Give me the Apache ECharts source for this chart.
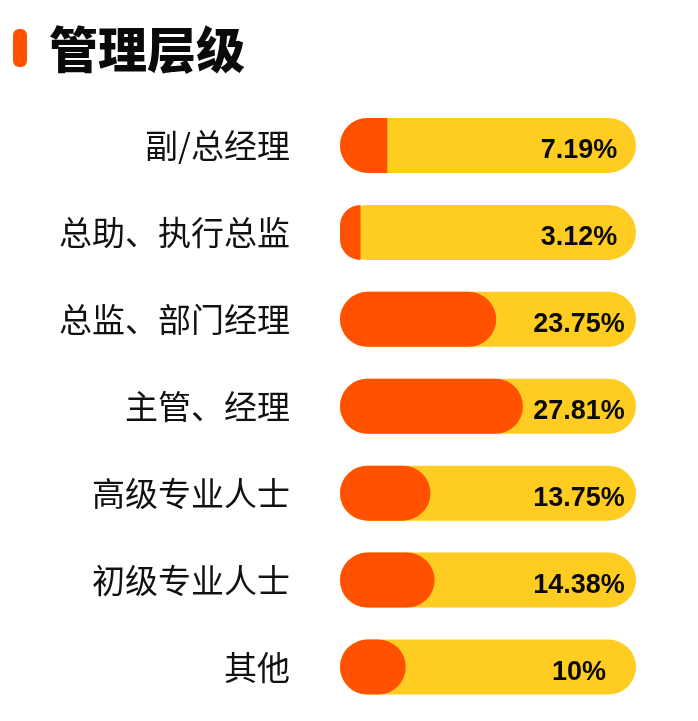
<!DOCTYPE html>
<html>
<head>
<meta charset="utf-8">
<script src="https://cdn.jsdelivr.net/npm/echarts@6/dist/echarts.min.js"></script>
<style>
  html, body { margin: 0; padding: 0; background: #ffffff; }
  #chart { width: 698px; height: 721px; }
</style>
</head>
<body>
<div id="chart"></div>
<script>
const titleText = '管理层级';
const categories = ['副/总经理', '总助、执行总监', '总监、部门经理', '主管、经理', '高级专业人士', '初级专业人士', '其他'];
const values = [7.19, 3.12, 23.75, 27.81, 13.75, 14.38, 10];
const axisMax = 45;

const ORANGE = '#FF5100';
const YELLOW = '#FFCC22';
const R = 27.5;

const chart = echarts.init(document.getElementById('chart'), null, { renderer: 'canvas' });

const barData = values.map(v => ({
  value: v,
  itemStyle: { borderRadius: v < 9 ? [R, 0, 0, R] : R }
}));

chart.setOption({
  backgroundColor: '#ffffff',
  animation: false,
  title: {
    text: titleText,
    left: 44,
    top: 20,
    textStyle: {
      fontFamily: 'Noto Sans CJK SC',
      fontSize: 49,
      fontWeight: 900,
      color: '#0a0a0a'
    }
  },
  graphic: [{
    type: 'rect',
    left: 13,
    top: 29,
    shape: { width: 14, height: 38, r: 6 },
    style: { fill: ORANGE }
  }],
  grid: { left: 340, right: 62, top: 102, bottom: 10.5 },
  xAxis: {
    type: 'value',
    min: 0,
    max: axisMax,
    show: false
  },
  yAxis: {
    type: 'category',
    data: categories,
    inverse: true,
    axisLine: { show: false },
    axisTick: { show: false },
    splitLine: { show: false },
    axisLabel: {
      margin: 50,
      fontFamily: 'Noto Sans CJK SC',
      fontSize: 33,
      color: '#111111'
    }
  },
  series: [{
    type: 'bar',
    data: barData,
    barWidth: 55,
    itemStyle: { color: ORANGE },
    showBackground: true,
    backgroundStyle: { color: YELLOW, borderRadius: R },
    label: {
      show: true,
      position: [239, 33],
      align: 'center',
      verticalAlign: 'middle',
      formatter: '{c}%',
      fontFamily: 'Liberation Sans',
      fontWeight: 'bold',
      fontSize: 27,
      color: '#0a0a0a'
    }
  }]
});
</script>
</body>
</html>
